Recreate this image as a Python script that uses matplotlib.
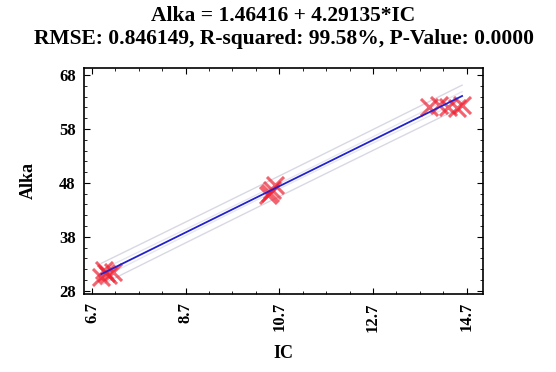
import numpy as np
import matplotlib
matplotlib.use("Agg")
import matplotlib.pyplot as plt
from matplotlib.ticker import AutoMinorLocator

ic = [6.9, 6.95, 7.0, 7.05, 7.15, 10.45, 10.5, 10.55, 10.6, 13.9, 14.1, 14.3, 14.5, 14.6]
alka = [30.6, 31.8, 31.2, 30.9, 31.5, 45.8, 46.2, 46.6, 47.6, 62.0, 62.5, 62.1, 61.9, 62.4]

intercept = 1.46416
slope = 4.29135
rmse = 0.846149
xticks = [6.7, 8.7, 10.7, 12.7, 14.7]
yticks = [28, 38, 48, 58, 68]

plt.rcParams['font.family'] = ['Liberation Serif', 'DejaVu Serif']
plt.rcParams['font.weight'] = 'bold'

fig = plt.figure(figsize=(5.56, 3.72), dpi=100)
ax = fig.add_axes([0.151, 0.21, 0.718, 0.607])

x = np.array(ic)
n = len(x)
xs = np.linspace(x.min(), x.max(), 100)
fit = intercept + slope * xs
sxx = ((x - x.mean()) ** 2).sum()
t = 2.179
ci = t * rmse * np.sqrt(1.0 / n + (xs - x.mean()) ** 2 / sxx)
pi = t * rmse * np.sqrt(1 + 1.0 / n + (xs - x.mean()) ** 2 / sxx)

ax.plot(xs, fit + pi, color='#d8d8e4', lw=1)
ax.plot(xs, fit - pi, color='#d8d8e4', lw=1)
ax.plot(xs, fit + ci, color='#e6e6ee', lw=1)
ax.plot(xs, fit - ci, color='#e6e6ee', lw=1)
ax.scatter(ic, alka, marker='x', s=150, color='#ee2233', linewidths=2.2, alpha=0.7, zorder=3)
ax.plot(xs, fit, color='#2222cc', lw=1.3, zorder=4)

ax.set_xlim(6.53, 15.05)
ax.set_ylim(27.4, 69.3)
ax.set_xticks(xticks)
ax.set_yticks(yticks)
ax.set_xticklabels([str(v) for v in xticks], rotation=90, fontsize=12, fontweight='bold')
ax.set_yticklabels([str(v) for v in yticks], fontsize=12, fontweight='bold')
ax.xaxis.set_minor_locator(AutoMinorLocator(4))
ax.yaxis.set_minor_locator(AutoMinorLocator(5))
ax.tick_params(which='both', direction='in', top=True, right=True)
ax.tick_params(which='major', length=4, pad=6)
ax.tick_params(which='minor', length=2)
for s in ax.spines.values():
    s.set_linewidth(1.2)

ax.set_xlabel('IC', fontsize=13, fontweight='bold', labelpad=10)
ax.set_ylabel('Alka', fontsize=13, fontweight='bold', labelpad=16)
ax.set_title('Alka = 1.46416 + 4.29135*IC\nRMSE: 0.846149, R-squared: 99.58%, P-Value: 0.0000',
             fontsize=15.5, fontweight='bold', pad=17, linespacing=1.25)

fig.savefig('out.png', dpi=100)
